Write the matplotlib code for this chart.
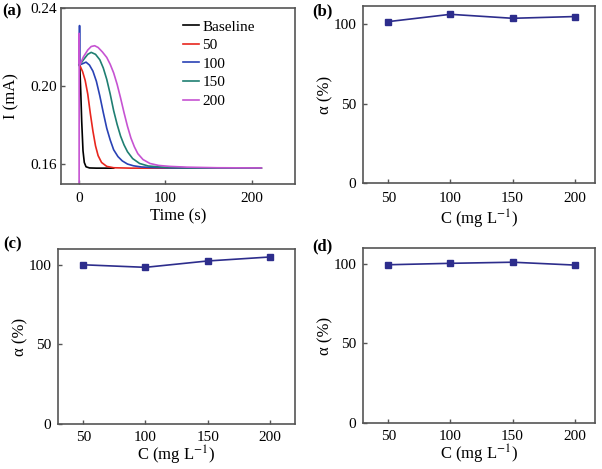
import numpy as np
import matplotlib
matplotlib.use('Agg')
import matplotlib.pyplot as plt

plt.rcParams['font.family'] = ['Liberation Serif', 'DejaVu Serif']
plt.rcParams['mathtext.fontset'] = 'stix'

# panel (a): current vs time
t_base = [0.0, 0.8, 2.0, 3.0, 4.5, 6.0, 8.0, 12.0, 20.0, 40.0]
i_base = [0.211, 0.210, 0.196, 0.182, 0.167, 0.161, 0.1588, 0.1582, 0.1581, 0.1581]

t_50 = [0.0, 1.0, 4.0, 7.0, 10.0, 13.0, 16.0, 19.0, 22.0, 26.0, 32.0, 40.0, 60.0, 211.0]
i_50 = [0.211, 0.2105, 0.2075, 0.203, 0.196, 0.186, 0.177, 0.1695, 0.1645, 0.161, 0.159, 0.1583, 0.1581, 0.1581]

t_100 = [0.0, 0.5, 1.0, 4.0, 8.0, 12.0, 16.0, 20.0, 24.0, 28.0, 32.0, 36.0, 40.0, 45.0, 50.0,
         56.0, 63.0, 72.0, 85.0, 110.0, 211.0]
i_100 = [0.211, 0.231, 0.211, 0.2115, 0.2123, 0.2108, 0.2077, 0.2025, 0.195, 0.1865, 0.1785,
         0.1725, 0.1675, 0.164, 0.1618, 0.1602, 0.1593, 0.1587, 0.1584, 0.1582, 0.1581]

t_150 = [0.0, 1.0, 5.0, 10.0, 14.0, 19.0, 24.0, 28.0, 32.0, 36.0, 40.0, 44.0, 48.0, 52.0,
         56.0, 62.0, 70.0, 80.0, 100.0, 130.0, 211.0]
i_150 = [0.211, 0.211, 0.2135, 0.2163, 0.2173, 0.2163, 0.2135, 0.2093, 0.2035, 0.196, 0.1875,
         0.1805, 0.1745, 0.1700, 0.1665, 0.1630, 0.1605, 0.1592, 0.1585, 0.1582, 0.1581]

t_200 = [0.0, 0.05, 0.3, 1.0, 5.0, 10.0, 14.0, 18.0, 22.0, 27.0, 32.0, 36.0, 40.0, 44.0,
         48.0, 52.0, 56.0, 60.0, 64.0, 68.0, 74.0, 82.0, 92.0, 105.0, 125.0, 160.0, 211.0]
i_200 = [0.140, 0.227, 0.212, 0.211, 0.215, 0.2185, 0.2203, 0.2207, 0.2198, 0.2175, 0.2147,
         0.2112, 0.2068, 0.2010, 0.1940, 0.1865, 0.1795, 0.1735, 0.1690, 0.1655, 0.1625,
         0.1605, 0.1595, 0.1590, 0.1586, 0.1583, 0.1582]

curves = [(t_base, i_base, 'black', 'Baseline'),
          (t_50, i_50, '#e8261e', '50'),
          (t_100, i_100, '#2a42b5', '100'),
          (t_150, i_150, '#1f7f72', '150'),
          (t_200, i_200, '#c653d2', '200')]

# panels (b)-(d): alpha vs concentration
conc = [50, 100, 150, 200]
alpha_b = [101.7, 106.3, 103.8, 104.9]
alpha_c = [100.1, 98.5, 102.5, 105.0]
alpha_d = [99.5, 100.4, 101.1, 99.3]

frame_col = '#555555'
fs_tick = 11
fs_lab = 12

fig = plt.figure(figsize=(6.02, 4.69), dpi=100)

def style(ax):
    for s in ax.spines.values():
        s.set_color(frame_col)
        s.set_linewidth(1.2)
    ax.tick_params(direction='in', length=3, width=1, color=frame_col,
                   labelsize=fs_tick, top=False, right=False)
    ax.tick_params(axis='y', pad=5)
    ax.tick_params(axis='x', pad=6)

ax_a = fig.add_axes([0.1013, 0.6077, 0.3887, 0.3753])
for t, i, c, lab in curves:
    ax_a.plot(t, i, color=c, lw=1.2, label=lab)
ax_a.set_xlim(-21, 250)
ax_a.set_ylim(0.150, 0.240)
ax_a.set_xticks([0, 100, 200])
ax_a.set_yticks([0.16, 0.20, 0.24])
ax_a.set_yticklabels(['0.16', '0.20', '0.24'])
style(ax_a)
ax_a.tick_params(axis='y', pad=3)
ax_a.set_xlabel('Time (s)', fontsize=fs_lab, labelpad=2)
ax_a.set_ylabel('I (mA)', fontsize=fs_lab, labelpad=8)
ax_a.legend(frameon=False, fontsize=fs_tick, loc='upper left', handlelength=1.1,
            handletextpad=0.2, labelspacing=0.32, borderaxespad=0, borderpad=0,
            bbox_to_anchor=(0.52, 0.932))

pos = {'b': [0.6035, 0.6091, 0.3844, 0.378],
       'c': [0.0969, 0.0959, 0.3927, 0.3731],
       'd': [0.6035, 0.0980, 0.3844, 0.3731]}
data = {'b': alpha_b, 'c': alpha_c, 'd': alpha_d}
ytop = {'b': 111.5, 'c': 110, 'd': 110}
xr = {'b': (30, 216), 'c': (30, 220), 'd': (30, 216)}
xpad = {'b': 2, 'c': 0, 'd': 0}

for k in ['b', 'c', 'd']:
    ax = fig.add_axes(pos[k])
    ax.plot(conc, data[k], color='#2d2d8c', marker='s', ms=4, lw=1.2)
    ax.set_xlim(*xr[k])
    ax.set_ylim(0, ytop[k])
    ax.set_xticks(conc)
    ax.set_yticks([0, 50, 100])
    style(ax)
    if k != 'b':
        ax.tick_params(axis='x', pad=5)
    ax.set_xlabel('C (mg L$^{-1}$)', fontsize=fs_lab, labelpad=xpad[k])
    ax.set_ylabel('α (%)', fontsize=fs_lab, labelpad=0)

fig.text(0.003, 0.975, '(a)', fontsize=12, fontweight='bold', va='center')
fig.text(0.518, 0.975, '(b)', fontsize=12, fontweight='bold', va='center')
fig.text(0.005, 0.478, '(c)', fontsize=12, fontweight='bold', va='center')
fig.text(0.518, 0.474, '(d)', fontsize=12, fontweight='bold', va='center')

fig.savefig('out.png', dpi=100)
